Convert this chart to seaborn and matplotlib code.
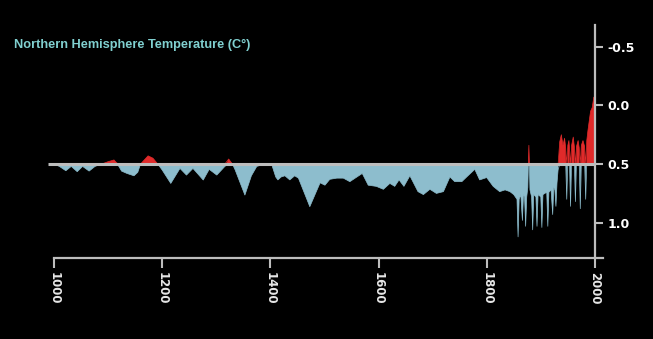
import numpy as np
import pandas as pd
import matplotlib
matplotlib.use("Agg")
import matplotlib.pyplot as plt
import seaborn as sns

# Reconstructed Northern Hemisphere temperature series (axis runs downward)
years = [1000, 1010, 1022, 1032, 1043, 1053, 1065, 1076, 1088, 1100,
         1111, 1116, 1120, 1125, 1135, 1148, 1155, 1160, 1168, 1174,
         1183, 1192, 1200, 1216, 1233, 1245, 1257, 1276, 1287, 1301,
         1316, 1323, 1330, 1335, 1353, 1365, 1375, 1390, 1403, 1410,
         1414, 1420, 1427, 1436, 1445, 1452, 1473, 1492, 1501, 1510,
         1523, 1535, 1547, 1560, 1570, 1581, 1596, 1609, 1621, 1630,
         1638, 1647, 1658, 1673, 1683, 1695, 1707, 1720, 1732, 1741,
         1754, 1763, 1778, 1787, 1800, 1812, 1824, 1834, 1843, 1850,
         1853, 1856, 1858, 1860, 1863, 1866, 1868, 1870, 1872, 1874,
         1876, 1877, 1878, 1879, 1880, 1883, 1885, 1887, 1891, 1893,
         1895, 1900, 1902, 1904, 1911, 1913, 1915, 1919, 1922, 1924,
         1926, 1928, 1930, 1932, 1935, 1938, 1941, 1944, 1946, 1948,
         1950, 1952, 1953, 1955, 1957, 1960, 1962, 1964, 1966, 1969,
         1971, 1973, 1975, 1978, 1981, 1983, 1985, 1987, 1989, 1992,
         1995, 1998, 2000]
temps = [0.50, 0.52, 0.557, 0.52, 0.565, 0.52, 0.56, 0.52, 0.50, 0.48,
         0.465, 0.49, 0.52, 0.56, 0.58, 0.60, 0.57, 0.50, 0.46, 0.43,
         0.45, 0.50, 0.55, 0.665, 0.537, 0.594, 0.537, 0.636, 0.545, 0.594,
         0.52, 0.457, 0.50, 0.55, 0.764, 0.60, 0.52, 0.50, 0.51, 0.61,
         0.635, 0.61, 0.60, 0.635, 0.60, 0.62, 0.863, 0.66, 0.68, 0.63,
         0.62, 0.62, 0.65, 0.61, 0.58, 0.68, 0.69, 0.715, 0.665, 0.69,
         0.635, 0.69, 0.60, 0.735, 0.76, 0.715, 0.75, 0.735, 0.61, 0.65,
         0.65, 0.61, 0.545, 0.635, 0.615, 0.69, 0.735, 0.72, 0.735, 0.76,
         0.78, 0.80, 1.12, 0.80, 0.76, 0.98, 0.76, 0.78, 1.03, 0.78,
         0.70, 0.50, 0.34, 0.50, 0.72, 0.78, 1.06, 0.76, 0.78, 1.03,
         0.76, 0.78, 1.04, 0.76, 0.74, 1.03, 0.74, 0.72, 0.93, 0.70,
         0.72, 0.86, 0.66, 0.55, 0.31, 0.25, 0.34, 0.28, 0.36, 0.80,
         0.34, 0.30, 0.36, 0.86, 0.34, 0.27, 0.35, 0.82, 0.35, 0.30,
         0.36, 0.88, 0.34, 0.30, 0.35, 0.80, 0.30, 0.22, 0.15, 0.05,
         0.02, -0.07, -0.07]

baseline = 0.5
x_ticks = [1000, 1200, 1400, 1600, 1800, 2000]
y_ticks = [-0.5, 0.0, 0.5, 1.0]
y_ticklabels = ["-0.5", "0.0", "0.5", "1.0"]

COOL = "#8dbdcd"
WARM = "#e02a2a"
GREY = "#bdbdbd"

sns.set_theme(style="dark", rc={"axes.facecolor": "black",
                                "figure.facecolor": "black"})

df = pd.DataFrame({"year": years, "temp": temps})
df["cool"] = np.maximum(df["temp"], baseline)
df["warm"] = np.minimum(df["temp"], baseline)

fig = plt.figure(figsize=(6.53, 3.39), dpi=100)
ax = fig.add_axes([48 / 653, 81 / 339, 555 / 653, 233 / 339])
ax.set_facecolor("black")

ax.fill_between(df["year"], baseline, df["temp"], where=df["temp"] >= baseline,
                interpolate=True, color=COOL, linewidth=0)
ax.fill_between(df["year"], baseline, df["temp"], where=df["temp"] <= baseline,
                interpolate=True, color=WARM, linewidth=0)
sns.lineplot(data=df, x="year", y="cool", ax=ax, color=COOL, linewidth=0.5)
sns.lineplot(data=df, x="year", y="warm", ax=ax, color=WARM, linewidth=0.5)

ax.set_xlim(989, 2015)
ax.set_ylim(1.30, -0.684)
ax.hlines(baseline, 989, 2000, color=GREY, linewidth=2.2, zorder=5)

ax.grid(False)
for side in ("left", "top"):
    ax.spines[side].set_visible(False)
for side in ("right", "bottom"):
    ax.spines[side].set_visible(True)
    ax.spines[side].set_color(GREY)
    ax.spines[side].set_linewidth(1.6)
ax.spines["right"].set_position(("data", 2000))
ax.spines["bottom"].set_bounds(1000, 2015)

ax.yaxis.tick_right()
ax.set_yticks(y_ticks)
ax.set_yticklabels(y_ticklabels)
ax.set_xticks(x_ticks)
ax.set_xticklabels([str(t) for t in x_ticks])
ax.tick_params(axis="y", which="major", direction="out", length=6, width=1.5,
               color=GREY, pad=3, labelcolor="white", labelsize=9,
               right=True, left=False)
ax.tick_params(axis="x", which="major", direction="out", length=7, width=1.5,
               color=GREY, pad=3, labelcolor="#e6e6e6", labelsize=8.5,
               bottom=True, labelrotation=-90)
for lab in ax.get_yticklabels() + ax.get_xticklabels():
    lab.set_fontweight("bold")
for lab in ax.get_xticklabels():
    lab.set_va("top")
    lab.set_ha("center")
ax.set_xlabel("")
ax.set_ylabel("")

fig.text(14 / 653, 1 - 45 / 339, "Northern Hemisphere Temperature (C°)",
         color="#80d0d0", fontsize=9.2, fontweight="bold",
         family=["Liberation Sans", "DejaVu Sans"], va="center", ha="left")

fig.savefig("out.png", dpi=100, facecolor="black")
